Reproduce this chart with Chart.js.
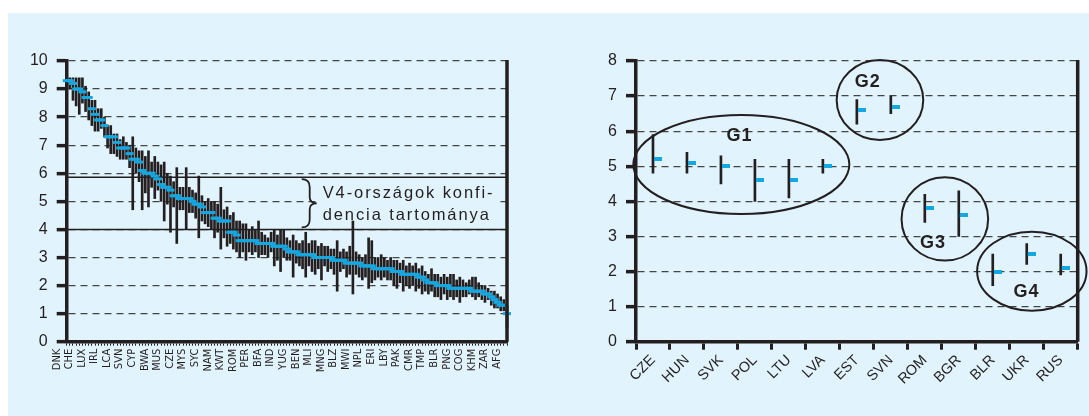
<!DOCTYPE html>
<html>
<head>
<meta charset="utf-8">
<script src="https://cdn.jsdelivr.net/npm/chart.js@4.4.0/dist/chart.umd.min.js"></script>
<style>
  html, body { margin: 0; padding: 0; background: #fff; }
  body { width: 1089px; height: 416px; position: relative; overflow: hidden; }
  #panel { position: absolute; left: 8px; top: 13px; right: 0; bottom: 0; background: #e1f3fc; }
  #leftChart { position: absolute; left: 0; top: 0; }
  #rightChart { position: absolute; left: 545px; top: 0; }
</style>
</head>
<body>
<div id="panel"></div>
<canvas id="leftChart" width="540" height="416"></canvas>
<canvas id="rightChart" width="544" height="416"></canvas>
<script>
// Left panel: country ranking, every 4th country is labelled
var leftTickLabels = ['DNK', 'CHE', 'LUX', 'IRL', 'LCA', 'SVN', 'CYP', 'BWA', 'MUS', 'CZE', 'MYS', 'SYC',
    'NAM', 'KWT', 'ROM', 'PER', 'BFA', 'IND', 'YUG', 'BEN', 'MLI', 'MNG', 'BLZ', 'MWI', 'NPL', 'ERI',
    'LBY', 'PAK', 'CMR', 'TMP', 'BLR', 'PNG', 'COG', 'KHM', 'ZAR', 'AFG'];

var leftScore = [9.3, 9.3, 9.2, 9.0, 9.0, 8.9, 8.7, 8.7, 8.3, 8.1,
    7.9, 7.9, 7.7, 7.3, 7.3, 7.3, 7.1, 6.9, 6.9, 6.9,
    6.7, 6.5, 6.5, 6.4, 6.1, 6.0, 6.0, 6.0, 5.9, 5.8,
    5.6, 5.5, 5.5, 5.4, 5.2, 5.2, 5.1, 5.1, 5.1, 5.1,
    5.0, 4.9, 4.9, 4.8, 4.6, 4.6, 4.6, 4.4, 4.4, 4.3,
    4.3, 4.3, 3.9, 3.9, 3.8, 3.6, 3.6, 3.6, 3.6, 3.6,
    3.6, 3.5, 3.5, 3.5, 3.5, 3.5, 3.4, 3.4, 3.4, 3.4,
    3.3, 3.2, 3.2, 3.2, 3.1, 3.1, 3.1, 3.1, 3.1, 3.0,
    3.0, 3.0, 3.0, 3.0, 3.0, 2.9, 2.9, 2.9, 2.9, 2.8,
    2.8, 2.8, 2.8, 2.8, 2.7, 2.7, 2.7, 2.7, 2.6, 2.6,
    2.6, 2.6, 2.6, 2.6, 2.5, 2.5, 2.5, 2.4, 2.4, 2.4,
    2.4, 2.4, 2.3, 2.3, 2.2, 2.1, 2.1, 2.1, 2.0, 2.0,
    2.0, 2.0, 1.9, 1.9, 1.9, 1.9, 1.9, 1.9, 1.9, 1.8,
    1.8, 1.8, 1.8, 1.7, 1.7, 1.6, 1.5, 1.4, 1.3, 1.3,
    1.0];

var leftHigh = [9.5, 9.4, 9.4, 9.4, 9.4, 9.4, 9.1, 8.9, 8.6, 8.6,
    8.3, 8.3, 8.0, 7.7, 7.7, 7.4, 7.4, 7.2, 7.3, 7.1,
    7.0, 7.3, 6.9, 6.8, 6.8, 6.6, 6.8, 6.4, 6.6, 6.4,
    6.3, 6.4, 6.0, 5.9, 5.7, 6.2, 5.5, 5.5, 6.2, 5.5,
    5.4, 5.3, 5.9, 5.2, 5.0, 5.1, 5.0, 5.0, 4.9, 5.5,
    4.7, 4.8, 4.5, 4.6, 4.3, 4.3, 4.2, 4.2, 4.0, 4.1,
    4.0, 4.3, 3.9, 3.8, 3.7, 3.9, 4.0, 3.8, 4.0, 4.0,
    3.7, 3.6, 3.8, 3.6, 3.5, 3.6, 3.9, 3.5, 3.6, 3.6,
    3.4, 3.5, 3.4, 3.4, 3.3, 3.3, 3.6, 3.2, 3.3, 3.2,
    3.4, 4.3, 3.2, 3.1, 3.0, 3.1, 3.7, 3.6, 3.0, 3.0,
    3.1, 3.0, 2.9, 3.0, 2.9, 2.9, 2.8, 2.9, 2.7, 2.8,
    2.7, 2.8, 2.6, 2.7, 2.5, 2.4, 2.6, 2.4, 2.4, 2.3,
    2.4, 2.3, 2.4, 2.4, 2.2, 2.3, 2.2, 2.1, 2.2, 2.3,
    2.3, 2.1, 2.0, 2.0, 1.9, 1.8, 1.8, 1.7, 1.6, 1.5,
    1.3];

var leftLow = [9.1, 9.0, 8.6, 8.4, 8.1, 8.5, 8.2, 7.9, 7.7, 7.5,
    7.5, 7.6, 7.3, 6.9, 6.7, 6.7, 6.6, 6.5, 6.5, 6.5,
    6.2, 4.7, 6.0, 5.7, 4.7, 5.3, 4.8, 5.5, 5.1, 5.4,
    5.0, 4.3, 4.9, 3.9, 4.8, 3.5, 4.7, 4.7, 4.0, 4.6,
    4.6, 4.4, 3.7, 4.3, 4.2, 4.1, 4.0, 3.7, 3.9, 3.3,
    3.7, 3.4, 3.5, 3.3, 3.2, 3.0, 3.2, 2.9, 3.2, 3.1,
    3.2, 3.0, 3.1, 3.1, 3.0, 3.2, 2.7, 2.9, 2.5, 3.0,
    2.9, 2.9, 2.3, 2.8, 2.7, 2.6, 2.3, 2.7, 2.5, 2.4,
    2.6, 2.2, 2.7, 2.5, 2.6, 2.4, 1.8, 2.5, 2.6, 2.3,
    2.4, 1.7, 2.4, 2.3, 2.2, 2.3, 1.9, 2.1, 2.2, 2.3,
    2.2, 2.3, 2.2, 2.2, 2.0, 1.9, 2.1, 1.8, 2.0, 1.9,
    2.0, 1.8, 1.9, 1.7, 1.8, 1.7, 1.8, 1.6, 1.6, 1.5,
    1.7, 1.5, 1.6, 1.5, 1.6, 1.4, 1.6, 1.6, 1.7, 1.6,
    1.5, 1.6, 1.5, 1.4, 1.5, 1.3, 1.2, 1.2, 1.1, 1.1,
    0.5];

// V4 confidence band on the left panel
var v4High = 5.86;
var v4Low = 4.0;

// Right panel: transition countries
var rightCountries = ['CZE', 'HUN', 'SVK', 'POL', 'LTU', 'LVA', 'EST', 'SVN', 'ROM', 'BGR', 'BLR', 'UKR', 'RUS'];
var rightScore = [5.2, 5.1, 5.0, 4.6, 4.6, 5.0, 6.6, 6.7, 3.8, 3.6, 2.0, 2.5, 2.1];
var rightLow = [4.8, 4.8, 4.5, 4.0, 4.1, 4.8, 6.2, 6.5, 3.4, 3.0, 1.6, 2.2, 1.9];
var rightHigh = [5.9, 5.4, 5.3, 5.2, 5.2, 5.2, 6.9, 7.0, 4.2, 4.3, 2.5, 2.8, 2.5];

var ink = '#231f20';
var gridGrey = '#454545';
var cyan = '#14a8e3';
var panelBlue = '#e1f3fc';

Chart.defaults.font.family = "'Liberation Sans', Arial, sans-serif";
Chart.defaults.color = ink;

var leftLabels = leftScore.map(function (v, i) {
    return i % 4 === 0 ? leftTickLabels[i / 4] : '';
});

// brace, band lines, caption, right frame line
var leftNotes = {
    id: 'leftNotes',
    beforeDatasetsDraw: function (chart) {
        var ctx = chart.ctx, a = chart.chartArea, y = chart.scales.y;
        var yTop = y.getPixelForValue(v4High);
        var yBot = y.getPixelForValue(v4Low);
        ctx.save();
        ctx.strokeStyle = ink;
        ctx.lineWidth = 1.5;
        [yTop, yBot].forEach(function (py) {
            ctx.beginPath();
            ctx.moveTo(a.left, py);
            ctx.lineTo(a.right, py);
            ctx.stroke();
        });

        // caption box
        var tx = a.left + 256;
        ctx.fillStyle = panelBlue;
        ctx.fillRect(tx - 4, yTop + 6, 178, yBot - yTop - 11);

        // brace
        var bx = a.left + 243, mid = (yTop + yBot) / 2;
        ctx.lineWidth = 1.8;
        ctx.beginPath();
        ctx.moveTo(bx - 8, yTop + 2);
        ctx.quadraticCurveTo(bx, yTop + 2, bx, yTop + 10);
        ctx.lineTo(bx, mid - 6);
        ctx.quadraticCurveTo(bx, mid, bx + 7, mid);
        ctx.quadraticCurveTo(bx, mid, bx, mid + 6);
        ctx.lineTo(bx, yBot - 10);
        ctx.quadraticCurveTo(bx, yBot - 2, bx - 8, yBot - 2);
        ctx.stroke();

        ctx.fillStyle = ink;
        ctx.font = "16.5px 'Liberation Sans', Arial, sans-serif";
        ctx.letterSpacing = '1.9px';
        ctx.textBaseline = 'middle';
        ctx.textAlign = 'left';
        ctx.fillText('V4-országok konfi-', tx, mid - 10);
        ctx.fillText('dencia tartománya', tx, mid + 12);
        ctx.restore();
    },
    afterDraw: function (chart) {
        var ctx = chart.ctx, a = chart.chartArea;
        ctx.save();
        ctx.strokeStyle = ink;
        ctx.lineWidth = 3.5;
        ctx.beginPath();
        ctx.moveTo(a.right, a.top - 1);
        ctx.lineTo(a.right, a.bottom);
        ctx.stroke();
        ctx.restore();
    }
};

new Chart(document.getElementById('leftChart'), {
    type: 'bar',
    data: {
        labels: leftLabels,
        datasets: [
            {
                type: 'line',
                label: 'score',
                data: leftScore,
                showLine: false,
                pointStyle: 'line',
                pointRadius: 4,
                pointBorderWidth: 3,
                pointBorderColor: cyan,
                pointBackgroundColor: cyan,
                clip: false,
                order: 0
            },
            {
                type: 'bar',
                label: 'interval',
                data: leftLow.map(function (lo, i) { return [lo, leftHigh[i]]; }),
                backgroundColor: ink,
                barThickness: 2,
                clip: false,
                order: 1
            }
        ]
    },
    options: {
        responsive: false,
        animation: false,
        layout: { padding: { left: 0, top: 61, right: 33, bottom: 0 } },
        plugins: { legend: { display: false }, tooltip: { enabled: false } },
        scales: {
            x: {
                type: 'category',
                offset: false,
                grid: { offset: false, drawOnChartArea: false, tickLength: 4, tickWidth: 1, tickColor: ink },
                border: { width: 3.5, color: ink },
                ticks: {
                    autoSkip: false, minRotation: 90, maxRotation: 90, padding: 3, labelOffset: -10,
                    color: ink,
                    font: { family: "'Liberation Sans Narrow', 'DejaVu Sans Condensed', sans-serif", size: 11 }
                },
                afterFit: function (s) { s.height = 74.3; }
            },
            y: {
                min: 0, max: 10,
                ticks: { stepSize: 1, padding: 9, color: ink, font: { size: 16 } },
                grid: { color: gridGrey, lineWidth: 1.3, tickLength: 10, tickWidth: 3.5, tickColor: ink, tickBorderDash: [] },
                border: { width: 3.5, color: ink, dash: [7, 5] },
                afterFit: function (s) { s.width = 66.7; }
            }
        }
    },
    plugins: [leftNotes]
});

// cyan dash sitting just right of each interval bar
function dashMarker() {
    var c = document.createElement('canvas');
    c.width = 18;
    c.height = 4;
    var g = c.getContext('2d');
    g.fillStyle = cyan;
    g.fillRect(10, 0, 8, 4);
    return c;
}

var groups = [
    { name: 'G1', cx: 2.6, cy: 5.05, rx: 108, ry: 49.5, lx: 2.55, ly: 5.85 },
    { name: 'G2', cx: 6.68, cy: 6.89, rx: 43.3, ry: 40, lx: 6.32, ly: 7.41 },
    { name: 'G3', cx: 8.59, cy: 3.5, rx: 43.3, ry: 41.7, lx: 8.24, ly: 2.82 },
    { name: 'G4', cx: 11.15, cy: 2.01, rx: 54.7, ry: 39.5, lx: 10.99, ly: 1.42 }
];

var rightNotes = {
    id: 'rightNotes',
    afterDatasetsDraw: function (chart) {
        var ctx = chart.ctx, x = chart.scales.x, y = chart.scales.y;
        ctx.save();
        ctx.strokeStyle = ink;
        ctx.fillStyle = ink;
        ctx.lineWidth = 2;
        ctx.font = "bold 18px 'Liberation Sans', Arial, sans-serif";
        ctx.letterSpacing = '1px';
        ctx.textAlign = 'center';
        ctx.textBaseline = 'middle';
        groups.forEach(function (g) {
            ctx.beginPath();
            ctx.ellipse(x.getPixelForValue(g.cx), y.getPixelForValue(g.cy), g.rx, g.ry, 0, 0, Math.PI * 2);
            ctx.stroke();
            ctx.fillText(g.name, x.getPixelForValue(g.lx), y.getPixelForValue(g.ly));
        });
        ctx.restore();
    },
    afterDraw: function (chart) {
        var ctx = chart.ctx, a = chart.chartArea;
        ctx.save();
        ctx.strokeStyle = ink;
        ctx.lineWidth = 3.5;
        ctx.beginPath();
        ctx.moveTo(a.right, a.top - 1);
        ctx.lineTo(a.right, a.bottom);
        ctx.stroke();
        ctx.restore();
    }
};

new Chart(document.getElementById('rightChart'), {
    type: 'bar',
    data: {
        labels: rightCountries,
        datasets: [
            {
                type: 'line',
                label: 'score',
                data: rightScore,
                showLine: false,
                pointStyle: dashMarker(),
                pointRadius: 4,
                clip: false,
                order: 0
            },
            {
                type: 'bar',
                label: 'interval',
                data: rightLow.map(function (lo, i) { return [lo, rightHigh[i]]; }),
                backgroundColor: ink,
                barThickness: 2,
                order: 1
            }
        ]
    },
    options: {
        responsive: false,
        animation: false,
        layout: { padding: { left: 0, top: 61, right: 11.3, bottom: 0 } },
        plugins: { legend: { display: false }, tooltip: { enabled: false } },
        scales: {
            x: {
                type: 'category',
                offset: true,
                grid: { offset: true, drawOnChartArea: false, tickLength: 8, tickWidth: 3, tickColor: ink },
                border: { width: 3.5, color: ink },
                ticks: { minRotation: 45, maxRotation: 45, padding: 2, color: ink, font: { size: 14.5 } },
                afterFit: function (s) { s.height = 74.3; }
            },
            y: {
                min: 0, max: 8,
                ticks: { stepSize: 1, padding: 9, color: ink, font: { size: 16 } },
                grid: { color: gridGrey, lineWidth: 1.3, tickLength: 10, tickWidth: 3.5, tickColor: ink, tickBorderDash: [] },
                border: { width: 3.5, color: ink, dash: [7, 5] },
                afterFit: function (s) { s.width = 91; }
            }
        }
    },
    plugins: [rightNotes]
});
</script>
</body>
</html>
